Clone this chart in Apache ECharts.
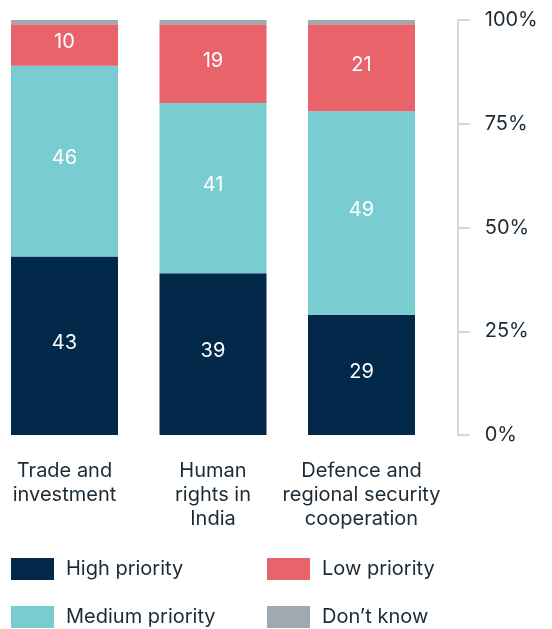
<!DOCTYPE html>
<html><head><meta charset="utf-8">
<script src="https://cdn.jsdelivr.net/npm/echarts@6/dist/echarts.min.js"></script>
<style>html,body{margin:0;padding:0;background:#fff}#c{width:552px;height:629px}</style>
</head><body><div id="c"></div>
<script>
const categories = ["Trade and\ninvestment", "Human\nrights in\nIndia", "Defence and\nregional security\ncooperation"];
const highPriority = [43, 39, 29];
const mediumPriority = [46, 41, 49];
const lowPriority = [10, 19, 21];
const dontKnow = [1, 1, 1];
const yTicks = [0, 25, 50, 75, 100];

const colors = {high:'#03294a', medium:'#79cdd0', low:'#e8636a', dk:'#9eaab0'};
const txt = '#1c2b36';
const font = 'Inter';

const chart = echarts.init(document.getElementById('c'), null, {renderer:'canvas'});
function seg(name, data, color, showLabel){
  return {
    name, type:'bar', stack:'all', data, barWidth:107,
    itemStyle:{color},
    label:{show:showLabel, position:'inside', offset:[0,-3], color:'#fff', fontSize:20, fontFamily:font},
    emphasis:{disabled:true}
  };
}
function leg(name, left, top){
  return {orient:'horizontal', left, top, itemWidth:43, itemHeight:22,
    icon:'rect', data:[name], selectedMode:false, padding:0,
    textStyle:{color:txt, fontSize:20, fontFamily:font, padding:[0,0,0,7]}};
}
chart.setOption({
  animation:false,
  textStyle:{fontFamily:font},
  grid:{left:-9.75, top:20, width:445.5, height:415, containLabel:false, outerBoundsMode:'none'},
  xAxis:{type:'category', data:categories,
    axisLine:{show:false}, axisTick:{show:false},
    axisLabel:{interval:0, color:txt, fontSize:20, lineHeight:24, margin:24, fontFamily:font}},
  yAxis:{type:'value', position:'right', offset:22, min:0, max:100, interval:25,
    splitLine:{show:false},
    axisLine:{show:true, lineStyle:{color:'#c5cbcf', width:1.5}},
    axisTick:{show:true, length:12, lineStyle:{color:'#c5cbcf', width:1.5}},
    axisLabel:{color:txt, fontSize:20, margin:27, fontFamily:font,
      formatter:v => yTicks.includes(v) ? v + '%' : ''}},
  legend:[
    leg('High priority', 11, 558),
    leg('Medium priority', 11, 606),
    leg('Low priority', 267, 558),
    leg("Don’t know", 267, 606)
  ],
  series:[
    seg('High priority', highPriority, colors.high, true),
    seg('Medium priority', mediumPriority, colors.medium, true),
    seg('Low priority', lowPriority, colors.low, true),
    seg("Don’t know", dontKnow, colors.dk, false)
  ]
});
</script></body></html>
